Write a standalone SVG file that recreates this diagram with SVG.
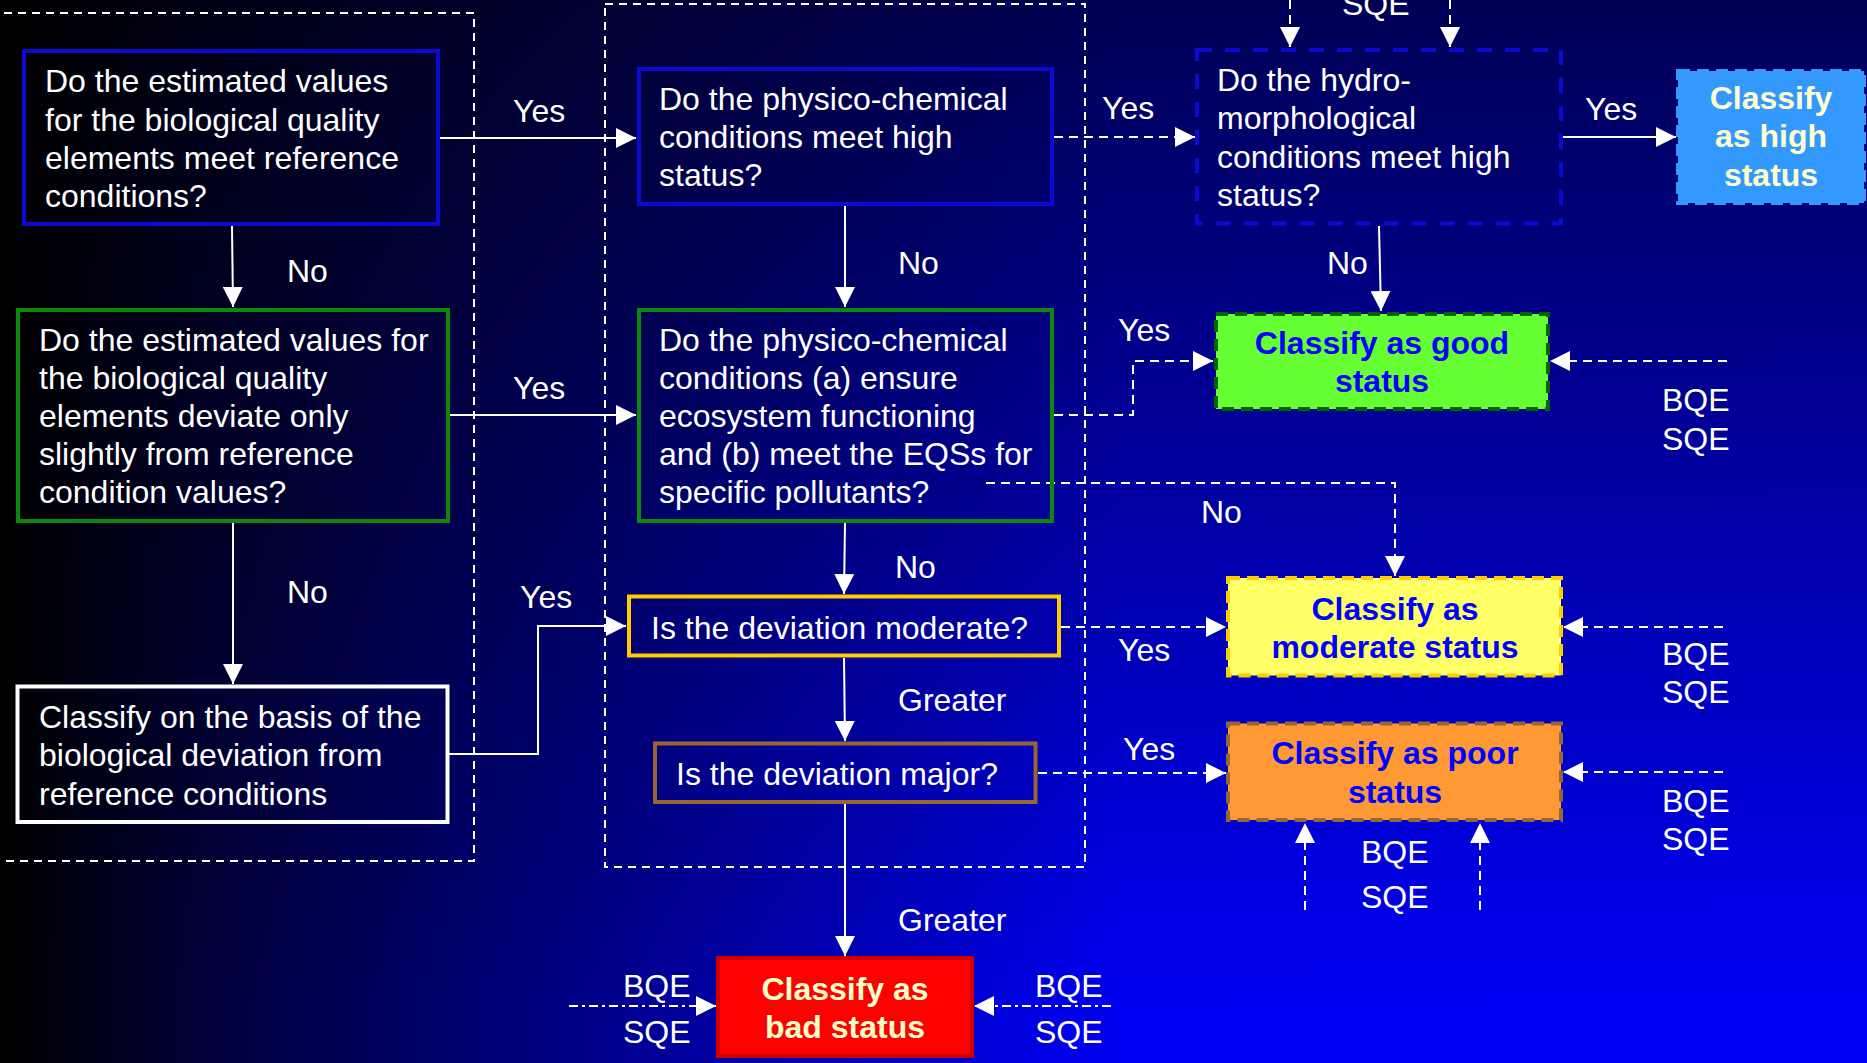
<svg xmlns="http://www.w3.org/2000/svg" width="1867" height="1063" viewBox="0 0 1867 1063">
<style>
text{font-family:"Liberation Sans",Arial,sans-serif;font-size:32px;fill:#ffffff}
.b{font-weight:bold}
.c{text-anchor:middle}
.blu{fill:#0000ff}
.crm{fill:#ffffcc}
.q{fill:none;stroke-width:4}
.st{stroke-width:4;stroke-dasharray:12 7}
.cont{fill:none;stroke:#ffffff;stroke-width:2;stroke-dasharray:8 6}
.ln{fill:none;stroke:#ffffff;stroke-width:2;marker-end:url(#ah)}
.dsh{stroke-dasharray:9 6}
.dd{stroke-dasharray:9 4 3 4}
</style>
<defs>
<linearGradient id="bgh" x1="0" y1="0" x2="1" y2="0">
<stop offset="0" stop-color="#000000"/>
<stop offset="0.107" stop-color="#000038"/>
<stop offset="0.32" stop-color="#00008c"/>
<stop offset="0.6" stop-color="#0000f2"/>
<stop offset="1" stop-color="#0000f4"/>
</linearGradient>
<linearGradient id="bgv" x1="0" y1="0" x2="0" y2="1">
<stop offset="0" stop-color="#000000" stop-opacity="0.65"/>
<stop offset="0.95" stop-color="#000000" stop-opacity="0"/>
</linearGradient>
<marker id="ah" markerUnits="userSpaceOnUse" markerWidth="20" markerHeight="20" refX="20" refY="10" orient="auto">
<path d="M0,0 L20,10 L0,20 z" fill="#ffffff"/>
</marker>
</defs>
<rect x="0" y="0" width="1867" height="1063" fill="url(#bgh)"/>
<rect x="0" y="0" width="1867" height="1063" fill="url(#bgv)"/>

<g id="containers">
<rect class="cont" x="-10" y="13" width="484" height="848"/>
<rect class="cont" x="605" y="4" width="480" height="863"/>
</g>

<g id="connectors">
<line class="ln" x1="440" y1="138" x2="636" y2="138"/>
<line class="ln" x1="232" y1="226" x2="233" y2="307"/>
<line class="ln" x1="450" y1="415" x2="636" y2="415"/>
<line class="ln" x1="233" y1="523" x2="233" y2="684"/>
<polyline class="ln" points="449,754 538,754 538,626 626,626"/>
<line class="ln" x1="845" y1="206" x2="845" y2="307"/>
<line class="ln dsh" x1="1054" y1="137" x2="1195" y2="137"/>
<polyline class="ln dsh" points="1054,415 1133,415 1133,361 1213,361"/>
<polyline class="ln dsh" points="986,483 1395,483 1395,576"/>
<line class="ln" x1="845" y1="523" x2="844" y2="594"/>
<line class="ln dsh" x1="1061" y1="627" x2="1226" y2="627"/>
<line class="ln" x1="844" y1="658" x2="845" y2="741"/>
<line class="ln dsh" x1="1038" y1="773" x2="1226" y2="773"/>
<line class="ln" x1="845" y1="804" x2="845" y2="956"/>
<line class="ln" x1="1563" y1="137" x2="1676" y2="137"/>
<line class="ln" x1="1379" y1="226" x2="1381" y2="311"/>
<line class="ln dsh" x1="1290" y1="0" x2="1290" y2="47"/>
<line class="ln dsh" x1="1450" y1="0" x2="1450" y2="47"/>
<line class="ln dsh" x1="1727" y1="361" x2="1550" y2="361"/>
<line class="ln dsh" x1="1723" y1="627" x2="1563" y2="627"/>
<line class="ln dsh" x1="1723" y1="772" x2="1563" y2="772"/>
<line class="ln dsh" x1="1305" y1="910" x2="1305" y2="823"/>
<line class="ln dsh" x1="1480" y1="910" x2="1480" y2="823"/>
<line class="ln dd" x1="569" y1="1006" x2="716" y2="1006"/>
<line class="ln dd" x1="1111" y1="1006" x2="974" y2="1006"/>
<g id="labels">
<text x="513" y="122">Yes</text>
<text x="287" y="282">No</text>
<text x="513" y="399">Yes</text>
<text x="287" y="603">No</text>
<text x="520" y="608">Yes</text>
<text x="898" y="274">No</text>
<text x="1102" y="119">Yes</text>
<text x="1118" y="341">Yes</text>
<text x="1201" y="523">No</text>
<text x="895" y="578">No</text>
<text x="1118" y="661">Yes</text>
<text x="898" y="711">Greater</text>
<text x="1123" y="760">Yes</text>
<text x="898" y="931">Greater</text>
<text x="1585" y="120">Yes</text>
<text x="1327" y="274">No</text>
<text x="1342" y="15">SQE</text>
<text x="1662" y="411">BQE</text>
<text x="1662" y="450">SQE</text>
<text x="1662" y="665">BQE</text>
<text x="1662" y="703">SQE</text>
<text x="1662" y="812">BQE</text>
<text x="1662" y="850">SQE</text>
<text x="1361" y="863">BQE</text>
<text x="1361" y="908">SQE</text>
<text x="623" y="997">BQE</text>
<text x="623" y="1043">SQE</text>
<text x="1035" y="997">BQE</text>
<text x="1035" y="1043">SQE</text>
</g>
</g>

<g id="q-biological-reference">
<rect class="q" x="24" y="51" width="414" height="173" stroke="#0a0ad2"/>
<text x="45" y="92">Do the estimated values</text>
<text x="45" y="131">for the biological quality</text>
<text x="45" y="169">elements meet reference</text>
<text x="45" y="207">conditions?</text>
</g>
<g id="q-biological-slight">
<rect class="q" x="18" y="310" width="430" height="211" stroke="#0a8a0a"/>
<text x="39" y="351">Do the estimated values for</text>
<text x="39" y="389">the biological quality</text>
<text x="39" y="427">elements deviate only</text>
<text x="39" y="465">slightly from reference</text>
<text x="39" y="503">condition values?</text>
</g>
<g id="classify-biological-deviation">
<rect class="q" x="17.5" y="686.5" width="430" height="135.5" stroke="#ffffff"/>
<text x="39" y="728">Classify on the basis of the</text>
<text x="39" y="766">biological deviation from</text>
<text x="39" y="805">reference conditions</text>
</g>
<g id="q-physchem-high">
<rect class="q" x="639" y="69" width="413" height="135" stroke="#0a0ad2"/>
<text x="659" y="110">Do the physico-chemical</text>
<text x="659" y="148">conditions meet high</text>
<text x="659" y="186">status?</text>
</g>
<g id="q-physchem-good">
<rect class="q" x="639" y="310" width="413" height="211" stroke="#0a8a0a"/>
<text x="659" y="351">Do the physico-chemical</text>
<text x="659" y="389">conditions (a) ensure</text>
<text x="659" y="427">ecosystem functioning</text>
<text x="659" y="465">and (b) meet the EQSs for</text>
<text x="659" y="503">specific pollutants?</text>
</g>
<g id="q-moderate">
<rect class="q" x="629" y="596.5" width="430" height="59" stroke="#ffcc00"/>
<text x="651" y="639">Is the deviation moderate?</text>
</g>
<g id="q-major">
<rect class="q" x="655" y="743.5" width="380.5" height="58.5" stroke="#996633"/>
<text x="676" y="785">Is the deviation major?</text>
</g>
<g id="q-hydromorph">
<rect x="1197" y="50" width="364" height="173.5" fill="none" stroke="#0a0ad2" stroke-width="4" stroke-dasharray="15 13"/>
<text x="1217" y="91">Do the hydro-</text>
<text x="1217" y="129">morphological</text>
<text x="1217" y="168">conditions meet high</text>
<text x="1217" y="206">status?</text>
</g>
<g id="high-status">
<rect class="st" x="1678" y="71" width="186" height="132" fill="#3399ff" stroke="#3399ff"/>
<text class="b c crm" x="1771" y="109">Classify</text>
<text class="b c crm" x="1771" y="147">as high</text>
<text class="b c crm" x="1771" y="186">status</text>
</g>
<g id="good-status">
<rect class="st" x="1216" y="314" width="332" height="95" fill="#66ff33" stroke="#006600"/>
<text class="b c blu" x="1382" y="354">Classify as good</text>
<text class="b c blu" x="1382" y="392">status</text>
</g>
<g id="moderate-status">
<rect class="st" x="1228" y="578" width="333" height="97.5" fill="#ffff66" stroke="#ffcc00"/>
<text class="b c blu" x="1395" y="620">Classify as</text>
<text class="b c blu" x="1395" y="658">moderate status</text>
</g>
<g id="poor-status">
<rect class="st" x="1228" y="723.5" width="333" height="96.5" fill="#ff9933" stroke="#996633"/>
<text class="b c blu" x="1395" y="764">Classify as poor</text>
<text class="b c blu" x="1395" y="803">status</text>
</g>
<g id="bad-status">
<rect x="718" y="958" width="254" height="98" fill="#ff0000" stroke="#cc0000" stroke-width="4"/>
<text class="b c crm" x="845" y="1000">Classify as</text>
<text class="b c crm" x="845" y="1038">bad status</text>
</g>
</svg>
